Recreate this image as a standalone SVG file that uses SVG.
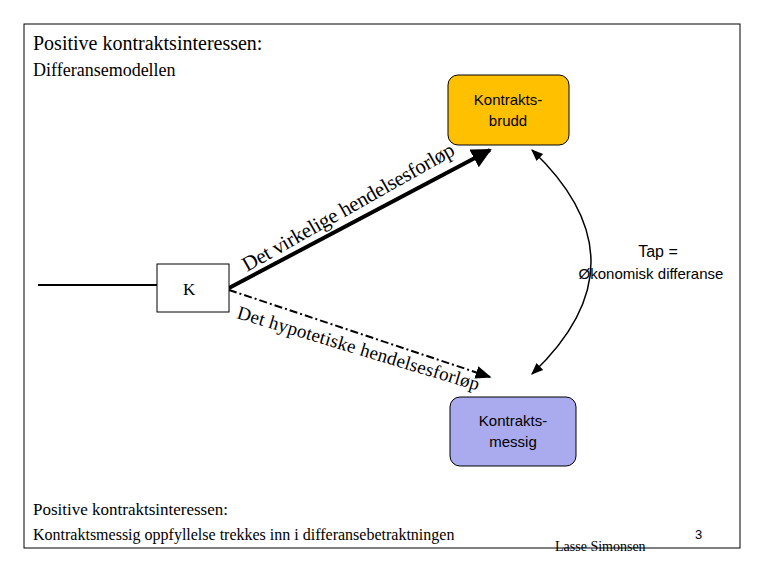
<svg xmlns="http://www.w3.org/2000/svg" width="765" height="570" viewBox="0 0 765 570">
<defs>
<style>
.s{font-family:"Liberation Serif",serif;fill:#000}
.a{font-family:"Liberation Sans",sans-serif;fill:#000}
</style>
<marker id="ah" viewBox="0 0 10 10" refX="9" refY="5" markerWidth="5" markerHeight="5" orient="auto-start-reverse"><path d="M0,0L10,5L0,10z"/></marker>
<marker id="ah2" viewBox="0 0 10 10" refX="9" refY="5" markerWidth="8" markerHeight="8" orient="auto-start-reverse"><path d="M0,1L10,5L0,9z"/></marker>
<path id="p1" d="M247,272 L460,152"/>
<path id="p2" d="M236,318 L482,392"/>
</defs>
<rect x="0" y="0" width="765" height="570" fill="#fff"/>
<rect x="24" y="24" width="716" height="524" fill="none" stroke="#000" stroke-width="1"/>
<text class="s" x="33" y="50" font-size="20">Positive kontraktsinteressen:</text>
<text class="s" x="33" y="76" font-size="18">Differansemodellen</text>
<g id="connectors">
<line x1="38" y1="285" x2="157" y2="285" stroke="#000" stroke-width="2"/>
<line x1="229" y1="288" x2="490" y2="150" stroke="#000" stroke-width="4" marker-end="url(#ah)"/>
<line x1="229" y1="290" x2="490" y2="377" stroke="#000" stroke-width="2" stroke-dasharray="8,3,2,3" marker-end="url(#ah2)"/>
<path d="M532,150 Q650,262 532,374" fill="none" stroke="#000" stroke-width="1.5" marker-start="url(#ah2)" marker-end="url(#ah2)"/>
</g>
<text class="s" font-size="21"><textPath href="#p1" textLength="240" lengthAdjust="spacing">Det virkelige hendelsesforløp</textPath></text>
<text class="s" font-size="19"><textPath href="#p2" textLength="252" lengthAdjust="spacing">Det hypotetiske hendelsesforløp</textPath></text>
<g id="brudd">
<rect x="448" y="75" width="121" height="70" rx="10" fill="#FFC000" stroke="#000"/>
<text class="a" x="508" y="105" font-size="15" text-anchor="middle">Kontrakts-</text>
<text class="a" x="508" y="126" font-size="15" text-anchor="middle">brudd</text>
</g>
<g id="messig">
<rect x="450" y="397" width="126" height="69" rx="10" fill="#AAAAEE" stroke="#000"/>
<text class="a" x="513" y="426" font-size="15" text-anchor="middle">Kontrakts-</text>
<text class="a" x="513" y="447" font-size="15" text-anchor="middle">messig</text>
</g>
<g id="K">
<rect x="157" y="264" width="72" height="48" fill="#fff" stroke="#000"/>
<text class="s" x="183" y="295" font-size="17">K</text>
</g>
<text class="a" x="658" y="257" font-size="16" text-anchor="middle">Tap =</text>
<text class="a" x="651" y="279" font-size="15" text-anchor="middle">Økonomisk differanse</text>
<text class="s" x="33" y="515" font-size="17">Positive kontraktsinteressen:</text>
<text class="s" x="33" y="540" font-size="16">Kontraktsmessig oppfyllelse trekkes inn i differansebetraktningen</text>
<text class="s" x="555" y="551" font-size="14">Lasse Simonsen</text>
<text class="a" x="695" y="539" font-size="13">3</text>
</svg>
